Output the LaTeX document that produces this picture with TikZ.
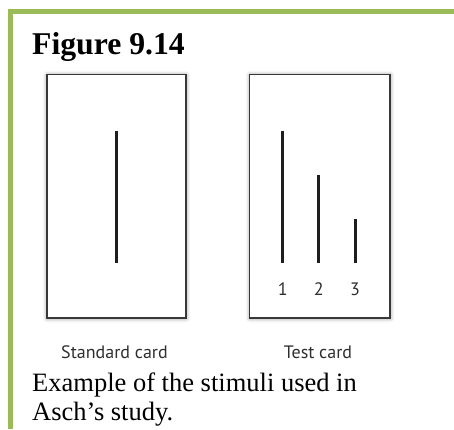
\documentclass[tikz,border=0pt]{standalone}
\usepackage{fontspec}
\setmainfont{Liberation Serif}
\newfontfamily\labelfont{PT Sans}
\usetikzlibrary{shadows.blur}
\definecolor{framegreen}{HTML}{9BBB59}
\definecolor{cardedge}{HTML}{383838}
\definecolor{stim}{HTML}{1E1E1E}
\definecolor{labelgray}{HTML}{2E2E2E}
\tikzset{
  card/.style={draw=cardedge, line width=1.6pt, fill=white,
    blur shadow={shadow xshift=0.4pt, shadow yshift=-0.6pt, shadow blur radius=4pt, shadow opacity=45}},
  stimline/.style={draw=stim, line width=3pt},
  sanslabel/.style={font=\labelfont\fontsize{18}{20}\selectfont, text=labelgray, inner sep=0pt},
  serifleft/.style={anchor=base west, inner sep=0pt}
}
\begin{document}
\begin{tikzpicture}[x=1pt,y=-1pt]
\useasboundingbox (0,0) rectangle (454,429);
% green frame
\fill[framegreen] (7.7,8.8) rectangle (454,14.3);
\fill[framegreen] (7.7,8.8) rectangle (13.3,429);
% title
\node[serifleft, font=\bfseries\fontsize{31.7}{36}\selectfont] (title) at (32,54.3) {Figure 9.14};
% standard card
\path[card] (46.7,74.3) rectangle (186,318);
\coordinate (s1) at (116.3,130.7);
\coordinate (s2) at (116.3,263.3);
\draw[stimline] (s1) -- (s2);
% test card
\path[card] (249.3,74.3) rectangle (390,318);
\coordinate (a1) at (282.7,130.7);
\coordinate (a2) at (282.7,263.3);
\coordinate (b1) at (318.7,174.7);
\coordinate (b2) at (318.7,263.3);
\coordinate (c1) at (355,219);
\coordinate (c2) at (355,263.3);
\draw[stimline] (a1) -- (a2);
\draw[stimline] (b1) -- (b2);
\draw[stimline] (c1) -- (c2);
\node[sanslabel] (n1) at (282.7,289.5) {1};
\node[sanslabel] (n2) at (318.7,289.5) {2};
\node[sanslabel] (n3) at (355,289.5) {3};
% card labels
\node[sanslabel] (stdlabel) at (114.5,352) {Standard card};
\node[sanslabel] (testlabel) at (318,352) {Test card};
% caption
\node[serifleft, font=\fontsize{26.5}{29.7}\selectfont] (cap1) at (32,391) {Example of the stimuli used in};
\node[serifleft, font=\fontsize{26.5}{29.7}\selectfont] (cap2) at (32,420.7) {Asch’s study.};
\end{tikzpicture}
\end{document}
